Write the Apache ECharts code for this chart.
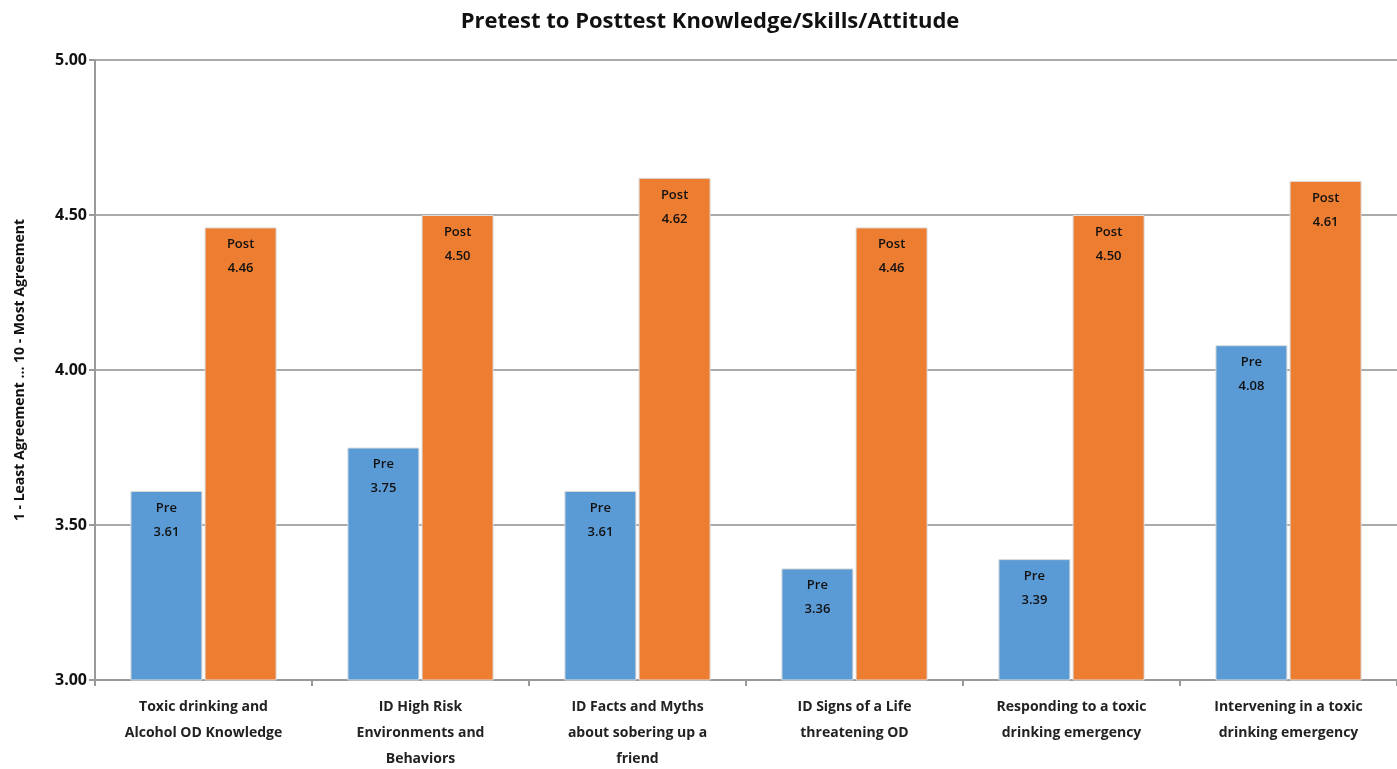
<!DOCTYPE html>
<html>
<head>
<meta charset="utf-8">
<script src="https://cdn.jsdelivr.net/npm/echarts@6/dist/echarts.min.js"></script>
<style>
  html, body { margin: 0; padding: 0; background: #fff; }
  #chart { width: 1397px; height: 769px; }
</style>
</head>
<body>
<div id="chart"></div>
<script>
// categories along the x axis
const categories = [
  "Toxic drinking and\nAlcohol OD Knowledge",
  "ID High Risk\nEnvironments and\nBehaviors",
  "ID Facts and Myths\nabout sobering up a\nfriend",
  "ID Signs of a Life\nthreatening OD",
  "Responding to a toxic\ndrinking emergency",
  "Intervening in a toxic\ndrinking emergency"
];
const preValues = [3.61, 3.75, 3.61, 3.36, 3.39, 4.08];
const postValues = [4.46, 4.50, 4.62, 4.46, 4.50, 4.61];

const font = "Open Sans, Lato, sans-serif";

function barLabel(name) {
  return {
    show: true,
    position: "insideTop",
    distance: 5,
    color: "#111",
    fontFamily: font,
    fontSize: 13,
    fontWeight: 600,
    lineHeight: 24,
    formatter: function (p) {
      return name + "\n" + p.value.toFixed(2);
    }
  };
}

let chart = echarts.init(document.getElementById("chart"));
chart.setOption({
  animation: false,
  title: {
    text: "Pretest to Posttest Knowledge/Skills/Attitude",
    left: 705,
    textAlign: "center",
    top: 6,
    textStyle: { fontFamily: font, fontSize: 22, fontWeight: "bold", color: "#111" }
  },
  grid: { left: 95, right: 0, top: 60, bottom: 89, containLabel: false, outerBoundsMode: "none" },
  xAxis: {
    type: "category",
    data: categories,
    axisLine: { lineStyle: { color: "#999", width: 2 } },
    axisTick: { show: true, length: 6, lineStyle: { color: "#999", width: 2 } },
    axisLabel: {
      color: "#222",
      fontFamily: font,
      fontSize: 14,
      fontWeight: "bold",
      lineHeight: 26,
      margin: 14,
      interval: 0
    }
  },
  yAxis: {
    type: "value",
    min: 3,
    max: 5,
    interval: 0.5,
    name: "1 - Least Agreement ... 10 - Most Agreement",
    nameLocation: "middle",
    nameGap: 68,
    nameTextStyle: { fontFamily: font, fontSize: 14, fontWeight: "bold", color: "#111" },
    axisLine: { show: true, lineStyle: { color: "#999", width: 2 } },
    axisTick: { show: true, length: 6, lineStyle: { color: "#999", width: 2 } },
    axisLabel: {
      color: "#111",
      fontFamily: font,
      fontSize: 16,
      fontWeight: "bold",
      margin: 8,
      formatter: function (v) { return v.toFixed(2); }
    },
    splitLine: { lineStyle: { color: "#aaa", width: 2 } }
  },
  series: [
    {
      name: "Pre",
      type: "bar",
      data: preValues,
      barWidth: 72,
      barGap: "3%",
      itemStyle: { color: "#5b9bd5", borderColor: "#dcdcdc", borderWidth: 1 },
      label: barLabel("Pre")
    },
    {
      name: "Post",
      type: "bar",
      data: postValues,
      barWidth: 72,
      itemStyle: { color: "#ed7d31", borderColor: "#dcdcdc", borderWidth: 1 },
      label: barLabel("Post")
    }
  ]
});
</script>
</body>
</html>
